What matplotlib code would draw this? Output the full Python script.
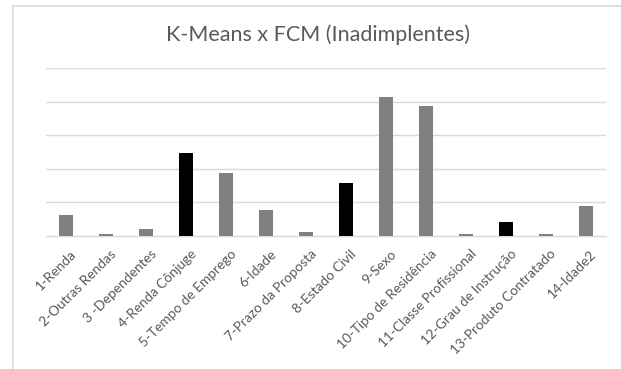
import matplotlib.pyplot as plt
from matplotlib.lines import Line2D
from matplotlib.transforms import ScaledTranslation

# variaveis avaliadas
variaveis = ["1-Renda", "2-Outras Rendas", "3 -Dependentes", "4-Renda Cônjuge",
             "5-Tempo de Emprego", "6-Idade", "7-Prazo da Proposta",
             "8-Estado Civil", "9-Sexo", "10-Tipo de Residência",
             "11-Classe Profissional", "12-Grau de Instrução",
             "13-Produto Contratado", "14-Idade2"]
valores = [0.62, 0.05, 0.20, 2.48, 1.87, 0.77, 0.12,
           1.58, 4.15, 3.88, 0.05, 0.42, 0.05, 0.89]
# variaveis em destaque (barras pretas)
destaque = ["4-Renda Cônjuge", "8-Estado Civil", "12-Grau de Instrução"]

cores = ["#000000" if v in destaque else "#808080" for v in variaveis]

fig = plt.figure(figsize=(6.21, 3.69), dpi=100)
ax = fig.add_axes([46 / 621, 1 - 236 / 369, 560 / 621, 168 / 369])

x = range(len(variaveis))
ax.bar(x, valores, width=0.33, color=cores, zorder=3)

ax.set_xlim(-0.5, len(variaveis) - 0.5)
ax.set_ylim(0, 5)
ax.set_yticks([1, 2, 3, 4, 5])
ax.yaxis.grid(True, color="#d9d9d9", linewidth=1.0, zorder=0)
ax.tick_params(axis="y", left=False, labelleft=False)
ax.tick_params(axis="x", bottom=False, pad=5)
for lado in ["top", "right", "left"]:
    ax.spines[lado].set_visible(False)
ax.spines["bottom"].set_color("#d9d9d9")
ax.spines["bottom"].set_linewidth(1.0)

ax.set_xticks(list(x))
rotulos = ax.set_xticklabels(variaveis, rotation=45, ha="right", va="top",
                             rotation_mode="anchor", fontsize=9.8,
                             color="#595959", family="Lato")
# desloca os rotulos um pouco para a direita
desloc = ScaledTranslation(4 / 100, 0, fig.dpi_scale_trans)
for r in rotulos:
    r.set_transform(r.get_transform() + desloc)

fig.text(318 / 621, 1 - 35 / 369, "K-Means x FCM (Inadimplentes)",
         ha="center", va="center", fontsize=15.5, color="#595959",
         family="Lato")

# moldura do grafico
fig.add_artist(Line2D([13 / 621, 13 / 621], [0, 1 - 6 / 369],
                      transform=fig.transFigure, color="#d9d9d9", lw=1.2))
fig.add_artist(Line2D([13 / 621, 1], [1 - 6 / 369, 1 - 6 / 369],
                      transform=fig.transFigure, color="#d9d9d9", lw=1.2))

fig.savefig("out.png", dpi=100)
